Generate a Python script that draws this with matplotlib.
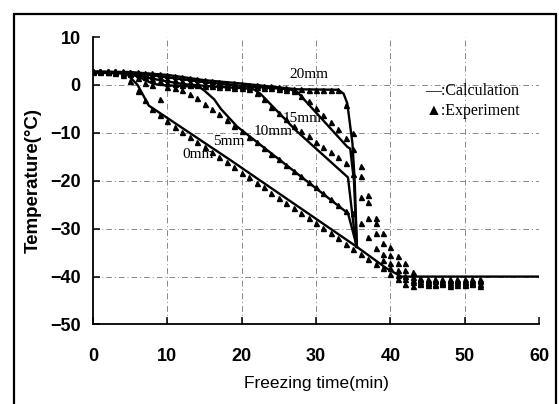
import matplotlib
matplotlib.use("Agg")
import matplotlib.pyplot as plt
from matplotlib.patches import Rectangle

# 计算值（实线）：不同深度
calc_t_0mm = [0, 4.5, 6, 7.5, 18.5, 35.5, 39.5, 41.5, 60]
calc_T_0mm = [2.6, 2.4, 0.0, -4.3, -15.7, -33.8, -38.3, -40.0, -40.0]

calc_t_5mm = [0, 4, 6, 8, 9, 14.3, 15, 16.3, 17.2, 19.4, 34.3, 35.5]
calc_T_5mm = [2.7, 2.6, 1.8, 0.3, 0.0, -0.4, -1.2, -3.0, -5.0, -8.7, -26.8, -33.8]

calc_t_10mm = [0, 5, 8, 12, 16, 21.5, 22.5, 27.3, 34.3, 34.8, 35.4]
calc_T_10mm = [2.7, 2.4, 1.3, 0.2, -0.3, -0.8, -1.8, -9.5, -19.3, -26.0, -33.8]

calc_t_15mm = [0, 5, 10, 15, 20, 26.5, 27.5, 34.2, 34.6, 35.1, 35.5]
calc_T_15mm = [2.8, 2.6, 1.6, 0.6, -0.2, -0.9, -1.5, -12.9, -13.3, -20.0, -33.8]

calc_t_20mm = [0, 5, 10, 15, 20, 25, 27.5, 33, 33.7, 34.2, 34.9, 35.2, 35.5]
calc_T_20mm = [2.8, 2.7, 2.1, 1.0, 0.3, -0.5, -0.9, -1.0, -1.8, -3.8, -12.2, -20.0, -33.8]

# 实验值（三角形），每分钟一个点
exp_time = list(range(0, 53))
exp_0mm = [2.8, 2.8, 2.7, 2.5, 2.0, 0.8, -1.2, -3.2, -5.0, -6.3,
           -7.6, -8.7, -9.8, -10.8, -11.9, -13.0, -14.0, -15.1, -16.1, -17.2,
           -18.3, -19.3, -20.4, -21.4, -22.5, -23.5, -24.6, -25.6, -26.7, -27.8,
           -28.8, -29.9, -30.9, -32.0, -33.2, -34.3, -35.3, -36.3, -37.3, -38.3,
           -39.5, -40.6, -41.6, -41.9, -41.5, -41.7, -41.8, -41.6, -41.9, -41.7,
           -41.8, -41.6, -41.9]
exp_5mm = [2.9, 2.9, 2.8, 2.7, 2.5, 2.2, 1.4, 0.5, 0.0, -3.0,
           -0.4, -0.7, -1.1, -1.8, -2.8, -3.9, -5.0, -6.1, -7.3, -8.5,
           -9.7, -10.9, -12.0, -13.2, -14.4, -15.5, -16.7, -17.9, -19.1, -20.3,
           -21.4, -22.6, -23.8, -25.0, -26.3, -26.8, -28.9, -31.7, -34.1, -36.5,
           -38.3, -39.6, -40.5, -41.2, -41.4, -41.3, -41.5, -41.4, -41.6, -41.3,
           -41.5, -41.4, -41.6]
exp_10mm = [3.0, 3.0, 2.9, 2.9, 2.8, 2.6, 2.2, 1.7, 1.2, 0.8,
            0.5, 0.3, 0.1, 0.0, -0.1, -0.2, -0.3, -0.4, -0.5, -0.6,
            -0.7, -0.9, -1.6, -3.0, -4.5, -5.9, -7.2, -8.5, -9.6, -10.7,
            -11.8, -12.9, -14.0, -15.1, -16.3, -18.5, -23.3, -27.7, -31.0, -35.3,
            -37.2, -38.6, -39.8, -40.8, -41.0, -41.2, -40.9, -41.1, -41.2, -41.0,
            -41.1, -41.2, -41.0]
exp_15mm = [3.0, 3.0, 3.0, 2.9, 2.8, 2.7, 2.5, 2.2, 1.9, 1.6,
            1.3, 1.1, 0.9, 0.7, 0.5, 0.3, 0.2, 0.0, -0.1, -0.2,
            -0.3, -0.4, -0.5, -0.6, -0.7, -0.8, -1.0, -1.3, -2.2, -3.4,
            -4.8, -6.3, -7.8, -9.2, -11.0, -13.4, -19.1, -24.5, -28.9, -33.0,
            -35.5, -37.2, -38.6, -40.0, -40.6, -40.8, -40.7, -40.9, -40.8, -40.7,
            -40.9, -40.8, -40.7]
exp_20mm = [3.0, 3.0, 3.0, 3.0, 2.9, 2.8, 2.7, 2.6, 2.4, 2.3,
            2.1, 1.9, 1.7, 1.5, 1.3, 1.1, 0.9, 0.7, 0.5, 0.4,
            0.2, 0.1, 0.0, -0.2, -0.3, -0.5, -0.6, -0.8, -0.9, -1.0,
            -1.0, -1.0, -1.0, -1.1, -4.2, -10.0, -16.9, -23.0, -27.8, -31.0,
            -33.8, -35.8, -37.2, -39.0, -40.3, -40.5, -40.4, -40.6, -40.5, -40.4,
            -40.6, -40.5, -40.4]

# 曲线标注
depth_labels = ["0mm", "5mm", "10mm", "15mm", "20mm"]
label_x = [14.1, 18.3, 24.2, 28.1, 29.1]
label_y = [-14.6, -11.8, -9.7, -7.0, 2.1]

x_ticks = [0, 10, 20, 30, 40, 50, 60]
y_ticks = [-50, -40, -30, -20, -10, 0, 10]

tick_font = ["Liberation Sans Narrow", "Liberation Sans", "DejaVu Sans"]
serif_font = ["Liberation Serif", "DejaVu Serif"]

fig = plt.figure(figsize=(5.59, 4.04), dpi=100)
ax = fig.add_axes([0.1664, 0.1968, 0.7979, 0.7114])

# 网格（点划线），不画在边缘
for xv in x_ticks[1:-1]:
    ax.axvline(xv, color="#888888", lw=0.7, ls="-.", dashes=(6, 3, 1, 3), zorder=1)
for yv in y_ticks[1:-1]:
    ax.axhline(yv, color="#888888", lw=0.7, ls="-.", dashes=(6, 3, 1, 3), zorder=1)

calc = [(calc_t_0mm, calc_T_0mm), (calc_t_5mm, calc_T_5mm), (calc_t_10mm, calc_T_10mm),
        (calc_t_15mm, calc_T_15mm), (calc_t_20mm, calc_T_20mm)]
for t, T in calc:
    ax.plot(t, T, color="black", lw=1.7, zorder=3)

for T in [exp_0mm, exp_5mm, exp_10mm, exp_15mm, exp_20mm]:
    ax.plot(exp_time, T, ls="none", marker="^", ms=3.6, color="black", zorder=4)

for s, x, y in zip(depth_labels, label_x, label_y):
    ax.text(x, y, s, family=serif_font, fontsize=11, ha="center", va="center", zorder=5)

ax.text(44.7, -1.2, "—:Calculation", family=serif_font, fontsize=11.5, ha="left", va="center")
ax.text(44.7, -5.4, "▲:Experiment", family=serif_font, fontsize=11.5, ha="left", va="center")

ax.set_xlim(0, 60)
ax.set_ylim(-50, 10)
ax.set_xticks(x_ticks)
ax.set_yticks(y_ticks)
ax.spines["top"].set_visible(False)
ax.spines["right"].set_visible(False)
for sp in ["left", "bottom"]:
    ax.spines[sp].set_linewidth(1.3)
ax.tick_params(direction="in", length=5, width=1.1)
ax.tick_params(axis="x", pad=17)
ax.tick_params(axis="y", pad=9)
for lab in ax.get_xticklabels() + ax.get_yticklabels():
    lab.set_family(tick_font)
    lab.set_fontsize(13)
    lab.set_fontweight("bold")

ax.set_xlabel("Freezing time(min)", family=tick_font, fontsize=12.5, labelpad=8)
ax.set_ylabel("Temperature(°C)", family=tick_font, fontsize=13.5, fontweight="bold", labelpad=6)

# 外框
fig.patches.append(Rectangle((13.5 / 559, -0.05), (556 - 13.5) / 559, 1.05 - 14 / 404,
                             transform=fig.transFigure, fill=False, lw=1.6, color="black"))

fig.savefig("out.png", dpi=100)
